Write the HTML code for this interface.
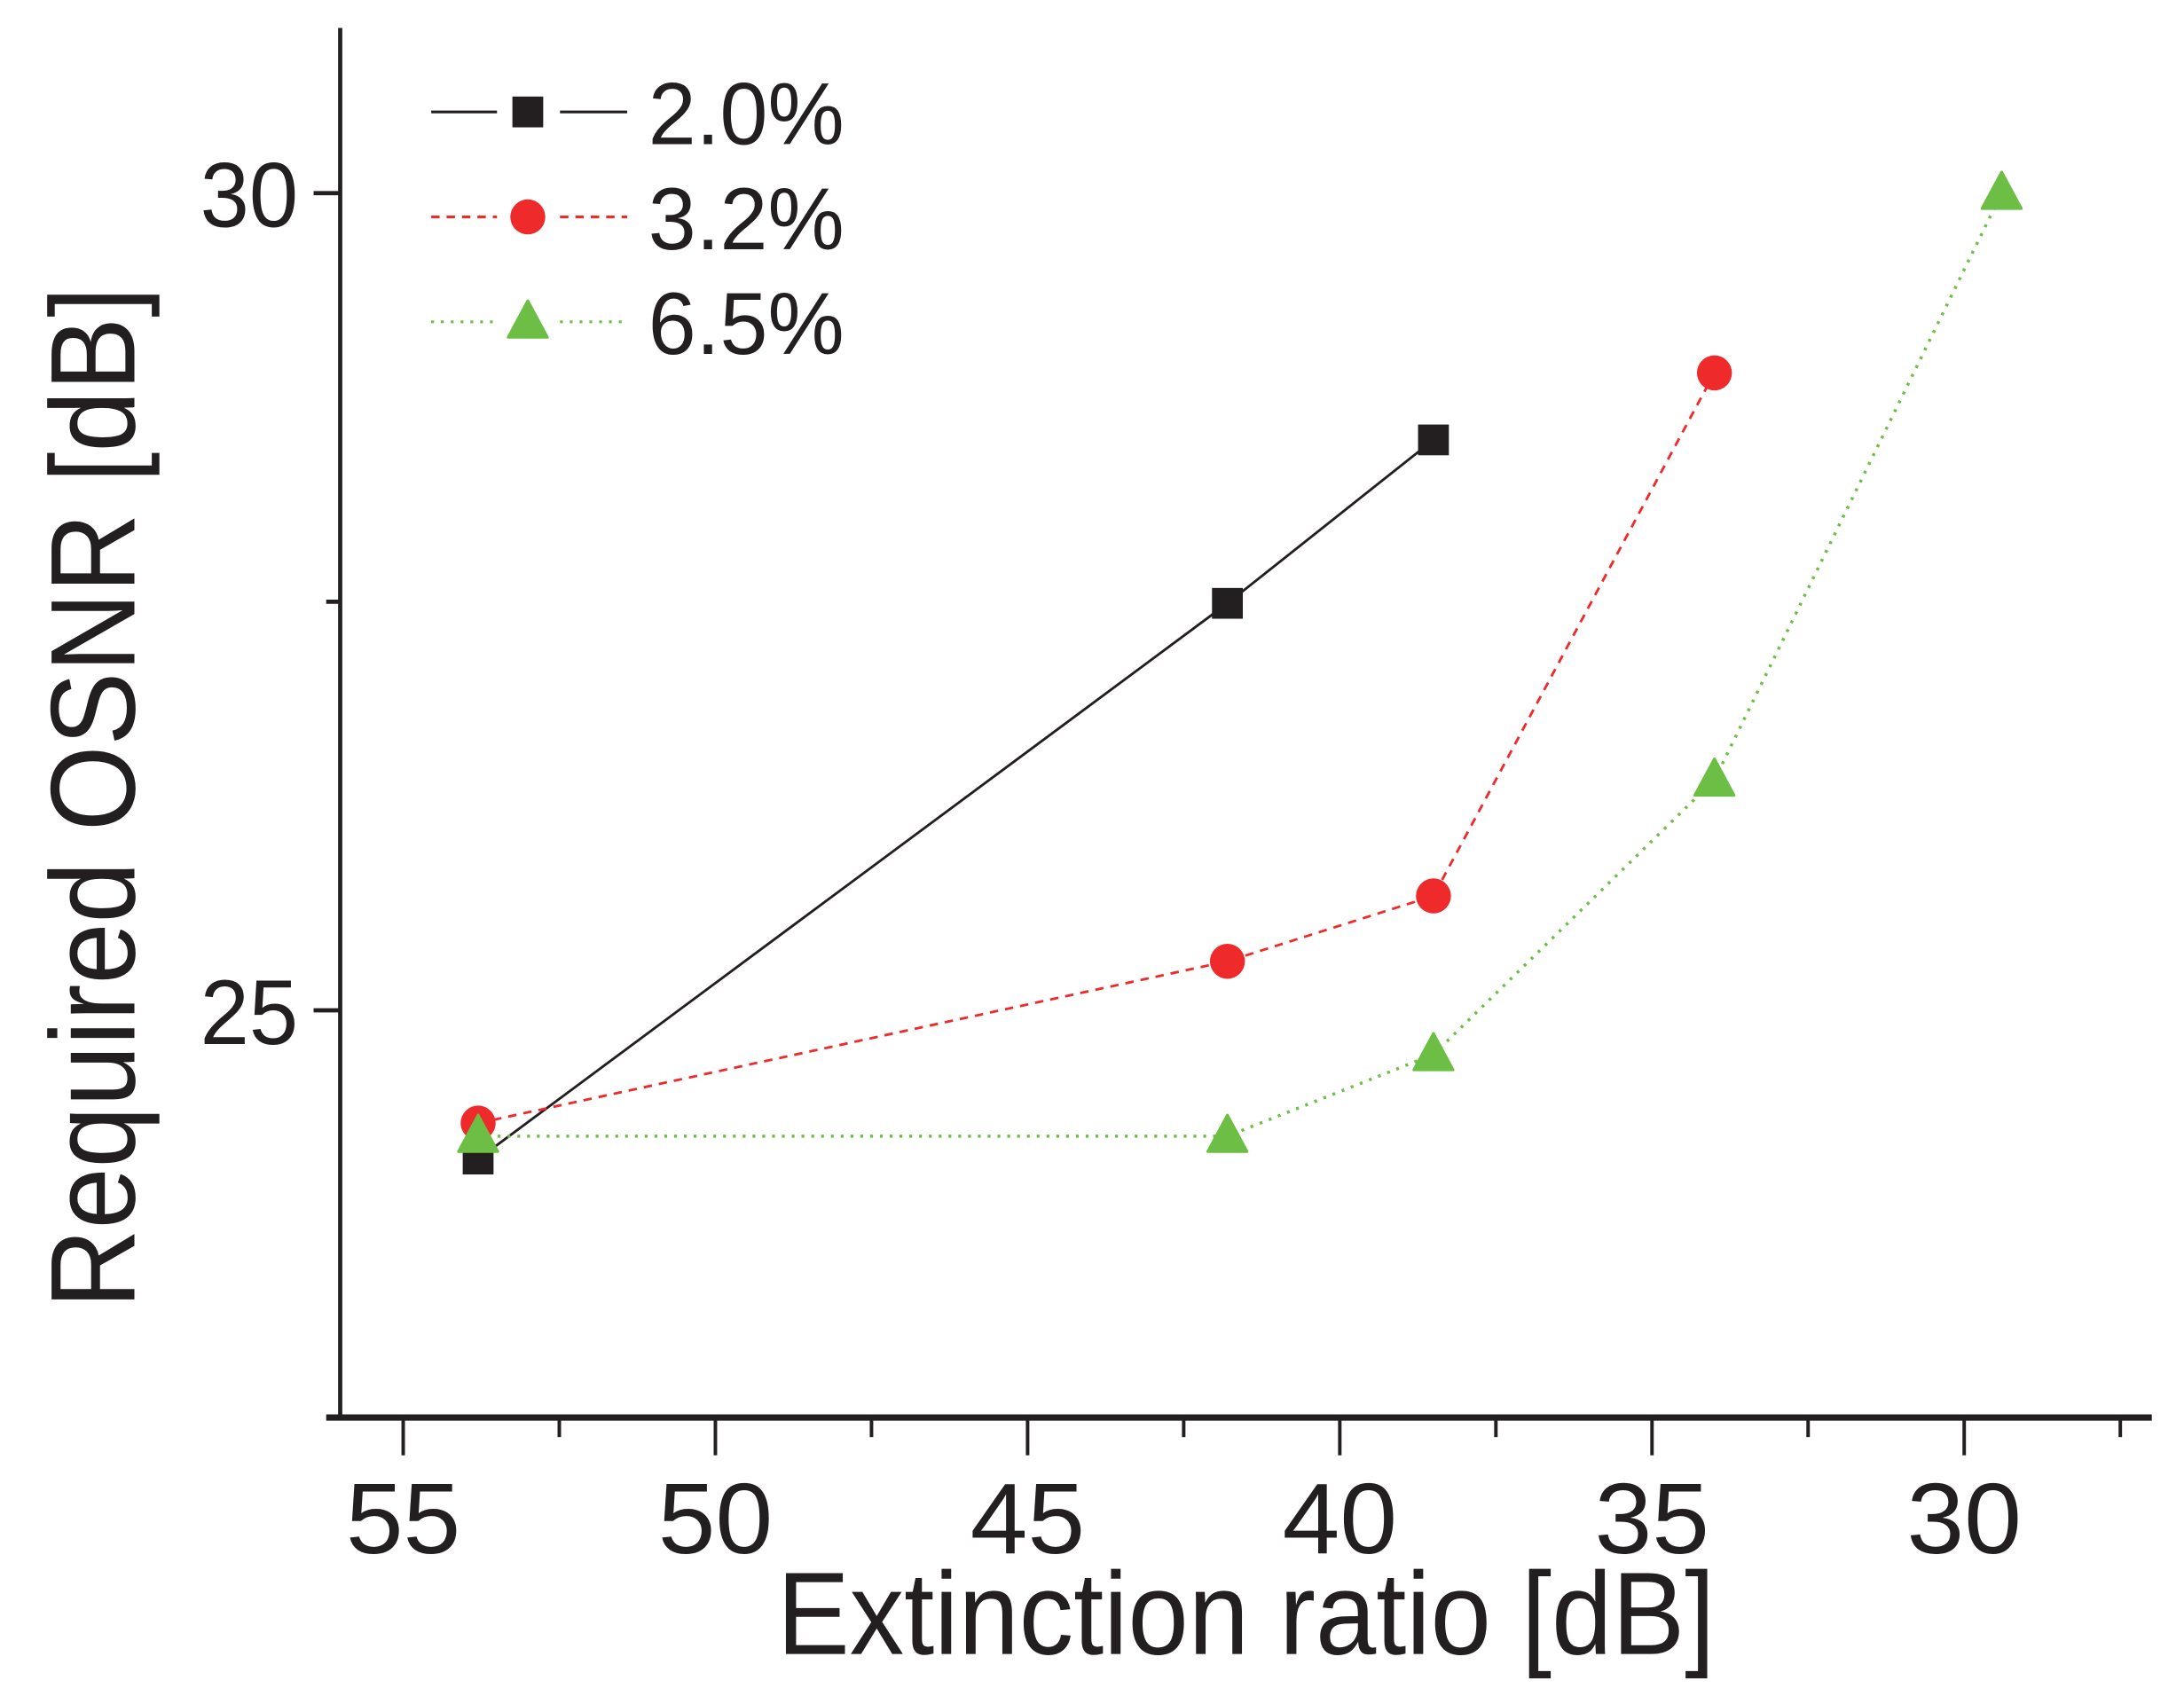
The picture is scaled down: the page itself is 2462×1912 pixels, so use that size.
<!DOCTYPE html>
<html><head><meta charset="utf-8"><style>html,body{margin:0;padding:0;background:#fff}svg{display:block}text{font-family:"Liberation Sans",Arial,sans-serif;fill:#231f20}</style></head>
<body>
<svg id="chart" width="2462" height="1912" viewBox="0 0 1560 1212" preserveAspectRatio="none" xmlns="http://www.w3.org/2000/svg">
<g id="axes"></g>
<g id="series"></g>
<g id="legend"></g>
<text x="890" y="1182" font-size="84" text-anchor="middle" textLength="670" lengthAdjust="spacingAndGlyphs">Extinction ratio [dB]</text>
<text transform="translate(96,570) rotate(-90)" font-size="86" text-anchor="middle" textLength="730" lengthAdjust="spacingAndGlyphs">Required OSNR [dB]</text>
</svg>
<script>
const xTicks = [55, 50, 45, 40, 35, 30];
const xMinor = [52.5, 47.5, 42.5, 37.5, 32.5, 27.5];
const yTicks = [25, 30];
const yMinor = [27.5];
const xs2 = [53.8, 41.8, 38.5];
const ys2 = [24.09, 27.49, 28.49];
const xs3 = [53.8, 41.8, 38.5, 34.0];
const ys3 = [24.31, 25.3, 25.7, 28.9];
const xs6 = [53.8, 41.8, 38.5, 34.0, 29.4];
const ys6 = [24.23, 24.23, 24.73, 26.41, 30.0];
const legendLabels = ["2.0%", "3.2%", "6.5%"];

const NS = "http://www.w3.org/2000/svg";
function X(v){ return 288 + (55 - v) * 44.6; }
function Y(v){ return 138 + (30 - v) * 116.8; }
function mk(tag, attrs, parent){ const e = document.createElementNS(NS, tag); for (const k in attrs) e.setAttribute(k, attrs[k]); parent.appendChild(e); return e; }
const axes = document.getElementById('axes');
const series = document.getElementById('series');
const legend = document.getElementById('legend');

let e = mk('line', {x1:243, y1:20, x2:243, y2:1013, stroke:'#231f20', 'stroke-width':3}, axes);


e = mk('line', {x1:233, y1:1013, x2:1537, y2:1013, stroke:'#231f20', 'stroke-width':4.5}, axes);


xTicks.forEach(v => {
  const t = mk('line', {x1:X(v), y1:1013, x2:X(v), y2:1040, stroke:'#231f20', 'stroke-width':2.5}, axes);
  
  
  const l = mk('text', {x:X(v), y:1110, 'font-size':72, 'text-anchor':'middle', textLength:82, lengthAdjust:'spacingAndGlyphs'}, axes);
  l.textContent = String(v);
  
  
});
xMinor.forEach(v => {
  const t = mk('line', {x1:X(v), y1:1013, x2:X(v), y2:1027, stroke:'#231f20', 'stroke-width':2.5}, axes);
  
  
});
yTicks.forEach(v => {
  const t = mk('line', {x1:224, y1:Y(v), x2:243, y2:Y(v), stroke:'#231f20', 'stroke-width':3}, axes);
  
  
  const l = mk('text', {x:213, y:Y(v)+24, 'font-size':66, 'text-anchor':'end', textLength:70, lengthAdjust:'spacingAndGlyphs'}, axes);
  l.textContent = String(v);
  
  
});
yMinor.forEach(v => {
  const t = mk('line', {x1:233, y1:Y(v), x2:243, y2:Y(v), stroke:'#231f20', 'stroke-width':3}, axes);
  
  
});

const styles = [
  {xs:xs2, ys:ys2, color:'#231f20', dash:'', shape:'square', name:'series-2-0'},
  {xs:xs3, ys:ys3, color:'#ee2a2b', dash:'6,5', shape:'circle', name:'series-3-2'},
  {xs:xs6, ys:ys6, color:'#6dbe45', dash:'2,5', shape:'triangle', name:'series-6-5'}
];
function marker(shape, cx, cy, color, parent){
  let m;
  if (shape === 'square') m = mk('rect', {x:cx-11, y:cy-11, width:22, height:22, fill:color}, parent);
  else if (shape === 'circle') m = mk('circle', {cx:cx, cy:cy, r:12.5, fill:color}, parent);
  else m = mk('polygon', {points:`${cx},${cy-15} ${cx-14},${cy+11} ${cx+14},${cy+11}`, fill:color, stroke:color, 'stroke-width':2, 'stroke-linejoin':'round'}, parent);
  return m;
}
styles.forEach(s => {
  const g = mk('g', {}, series);
  
  
  const pts = s.xs.map((x, i) => X(x) + ',' + Y(s.ys[i])).join(' ');
  const pl = mk('polyline', {points:pts, fill:'none', stroke:s.color, 'stroke-width':s.shape==='triangle'?2.2:1.8, 'stroke-dasharray':s.dash}, g);
  
  
  s.xs.forEach((x, i) => {
    const m = marker(s.shape, X(x), Y(s.ys[i]), s.color, g);
    
    
  });
});

const legY = [80, 155, 230];
styles.forEach((s, i) => {
  const g = mk('g', {}, legend);
  
  
  mk('line', {x1:308, y1:legY[i], x2:355, y2:legY[i], stroke:s.color, 'stroke-width':2, 'stroke-dasharray':s.dash}, g);
  mk('line', {x1:400, y1:legY[i], x2:448, y2:legY[i], stroke:s.color, 'stroke-width':2, 'stroke-dasharray':s.dash}, g);
  marker(s.shape, 377, legY[i], s.color, g);
  const t = mk('text', {x:463, y:legY[i]+23, 'font-size':63, textLength:140, lengthAdjust:'spacingAndGlyphs'}, g);
  t.textContent = legendLabels[i];
});
</script>
</body></html>
